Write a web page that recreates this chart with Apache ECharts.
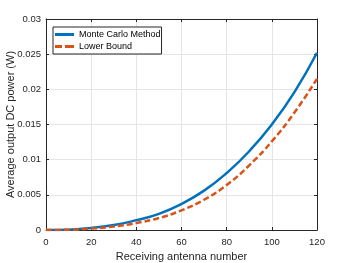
<!DOCTYPE html>
<html><head><meta charset="utf-8">
<script src="https://cdn.jsdelivr.net/npm/echarts@6/dist/echarts.min.js"></script>
<style>html,body{margin:0;padding:0;background:#fff}#c{width:350px;height:263px}</style>
</head><body><div id="c"></div>
<script>
const xValues = [0,10,20,30,40,50,60,70,80,90,100,110,120];
const monteCarlo = [0,0.00005,0.0003,0.0007,0.0014,0.0023,0.0037,0.0056,0.0081,0.0112,0.0150,0.0196,0.0252];
const lowerBound = [0,0.00003,0.0002,0.0005,0.0010,0.0017,0.0028,0.0043,0.0064,0.0092,0.0126,0.0167,0.0215];
const seriesNames = ['Monte Carlo Method','Lower Bound'];
const xTitle = 'Receiving antenna number';
const yTitle = 'Average output DC power (W)';

const axisCol = '#262626';
const font = 'Liberation Sans, Arial, sans-serif';
const chart = echarts.init(document.getElementById('c'), null, {renderer:'canvas'});
const grid = {left:46, top:19, right:33, bottom:33, outerBoundsMode:'none', containLabel:false};
const baseX = {type:'value', min:0, max:120, interval:20,
  axisLine:{show:true, onZero:false, lineStyle:{color:axisCol, width:1}},
  axisTick:{show:true, inside:true, length:3, lineStyle:{color:axisCol}},
  splitLine:{show:false}};
const baseY = {type:'value', min:0, max:0.03, interval:0.005,
  axisLine:{show:true, onZero:false, lineStyle:{color:axisCol, width:1}},
  axisTick:{show:true, inside:true, length:3, lineStyle:{color:axisCol}},
  splitLine:{show:false}};
chart.setOption({
  animation:false,
  grid:grid,
  legend:{
    left:53, top:27, orient:'vertical', itemGap:1,
    itemWidth:19, itemHeight:3, symbolKeepAspect:false,
    padding:[2,1,2,2],
    borderColor:'#262626', borderWidth:1, backgroundColor:'#fff',
    textStyle:{fontFamily:font, fontSize:9, color:'#000', lineHeight:11},
    data:[
      {name:seriesNames[0], icon:'path://M0,0H19V3H0Z'},
      {name:seriesNames[1], icon:'path://M0,0H7V3H0Z M10,0H19V3H10Z'}
    ]
  },
  xAxis:[
    Object.assign({}, baseX, {position:'bottom',
      name:xTitle, nameLocation:'middle', nameGap:21, nameMoveOverlap:false,
      nameTextStyle:{fontFamily:font, fontSize:11, color:axisCol},
      axisLabel:{fontFamily:font, fontSize:9.5, color:axisCol, margin:7},
      splitLine:{show:true, lineStyle:{color:'#e5e5e5', width:1}}}),
    Object.assign({}, baseX, {position:'top', axisLabel:{show:false}})
  ],
  yAxis:[
    Object.assign({}, baseY, {position:'left',
      name:yTitle, nameLocation:'middle', nameGap:30, nameMoveOverlap:false,
      nameTextStyle:{fontFamily:font, fontSize:11, color:axisCol},
      axisLabel:{fontFamily:font, fontSize:9.5, color:axisCol, margin:5,
        formatter:v=>String(parseFloat(v.toFixed(4)))},
      splitLine:{show:true, lineStyle:{color:'#e5e5e5', width:1}}}),
    Object.assign({}, baseY, {position:'right', axisLabel:{show:false}})
  ],
  series:[
    {name:seriesNames[0], type:'line', smooth:true, symbol:'none',
     data:xValues.map((x,i)=>[x, monteCarlo[i]]),
     lineStyle:{color:'#0072BD', width:2.5}, itemStyle:{color:'#0072BD'}, z:3},
    {name:seriesNames[1], type:'line', smooth:true, symbol:'none',
     data:xValues.map((x,i)=>[x, lowerBound[i]]),
     lineStyle:{color:'#D95319', width:2.5, type:[6,3]}, itemStyle:{color:'#D95319'}, z:4}
  ]
});
</script></body></html>
